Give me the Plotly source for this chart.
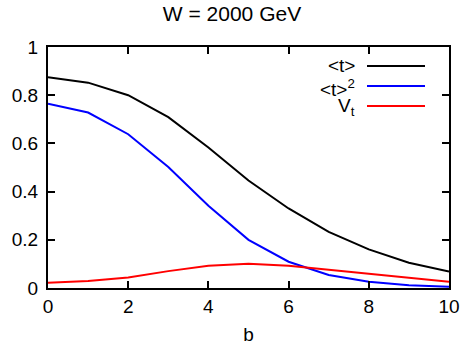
import plotly.graph_objects as go

b = [0, 1, 2, 3, 4, 5, 6, 7, 8, 9, 10]
t_mean = [0.875, 0.852, 0.800, 0.709, 0.583, 0.446, 0.330, 0.233, 0.160, 0.105, 0.068]
t_sq = [0.765, 0.728, 0.638, 0.502, 0.341, 0.200, 0.109, 0.054, 0.026, 0.011, 0.005]
v_t = [0.022, 0.029, 0.044, 0.070, 0.092, 0.101, 0.092, 0.075, 0.057, 0.040, 0.026]

names = ["&lt;t&gt;", "&lt;t&gt;<sup>2</sup>", "V<sub>t</sub>"]
colors = ["#000000", "#0000ff", "#ff0000"]
series = [t_mean, t_sq, v_t]

fig = go.Figure()
for ys, c in zip(series, colors):
    fig.add_trace(go.Scatter(x=b, y=ys, mode="lines", line=dict(color=c, width=2), showlegend=False))

# manual gnuplot-style legend
W, H = 464, 345
L, R, T, B = 48, 15, 47, 57
pw, ph = W - L - R, H - T - B
def px(x):
    return (x - L) / pw
def py(y):
    return 1 - (y - T) / ph
label_y = [66, 88, 107]
for i, (n, c) in enumerate(zip(names, colors)):
    yy = 66 + 20 * i
    fig.add_shape(type="line", xref="paper", yref="paper", x0=px(367), x1=px(425), y0=py(yy), y1=py(yy),
                  line=dict(color=c, width=2))
    fig.add_annotation(xref="paper", yref="paper", x=px(357), y=py(label_y[i]), text=n, showarrow=False,
                       xanchor="right", yanchor="middle", font=dict(size=19, color="black"))

axis_common = dict(showline=True, linecolor="black", linewidth=2, mirror="ticks", ticks="inside",
                   ticklen=7, tickwidth=1.5, tickcolor="black", showgrid=False, zeroline=False,
                   automargin=False, tickfont=dict(size=19, color="black"))
fig.update_xaxes(range=[0, 10], dtick=2, tick0=0, title=dict(text="b", font=dict(size=19, color="black"), standoff=18),
                 **axis_common)
fig.update_yaxes(range=[0, 1], dtick=0.2, tick0=0, tickformat="~g", ticklabelstandoff=4, **axis_common)

fig.update_layout(
    width=W, height=H,
    margin=dict(l=L, r=R, t=T, b=B, autoexpand=False),
    paper_bgcolor="white", plot_bgcolor="white",
    font=dict(family="Liberation Sans, Arial, sans-serif", color="black"),
    title=dict(text="W = 2000 GeV", x=0.5, xanchor="center", y=1 - 14 / H, yanchor="middle",
               font=dict(size=21, color="black")),
)
fig.write_html("out.html", config={"displayModeBar": False},
               post_script="document.body.style.margin='0';document.body.style.overflow='hidden';")
